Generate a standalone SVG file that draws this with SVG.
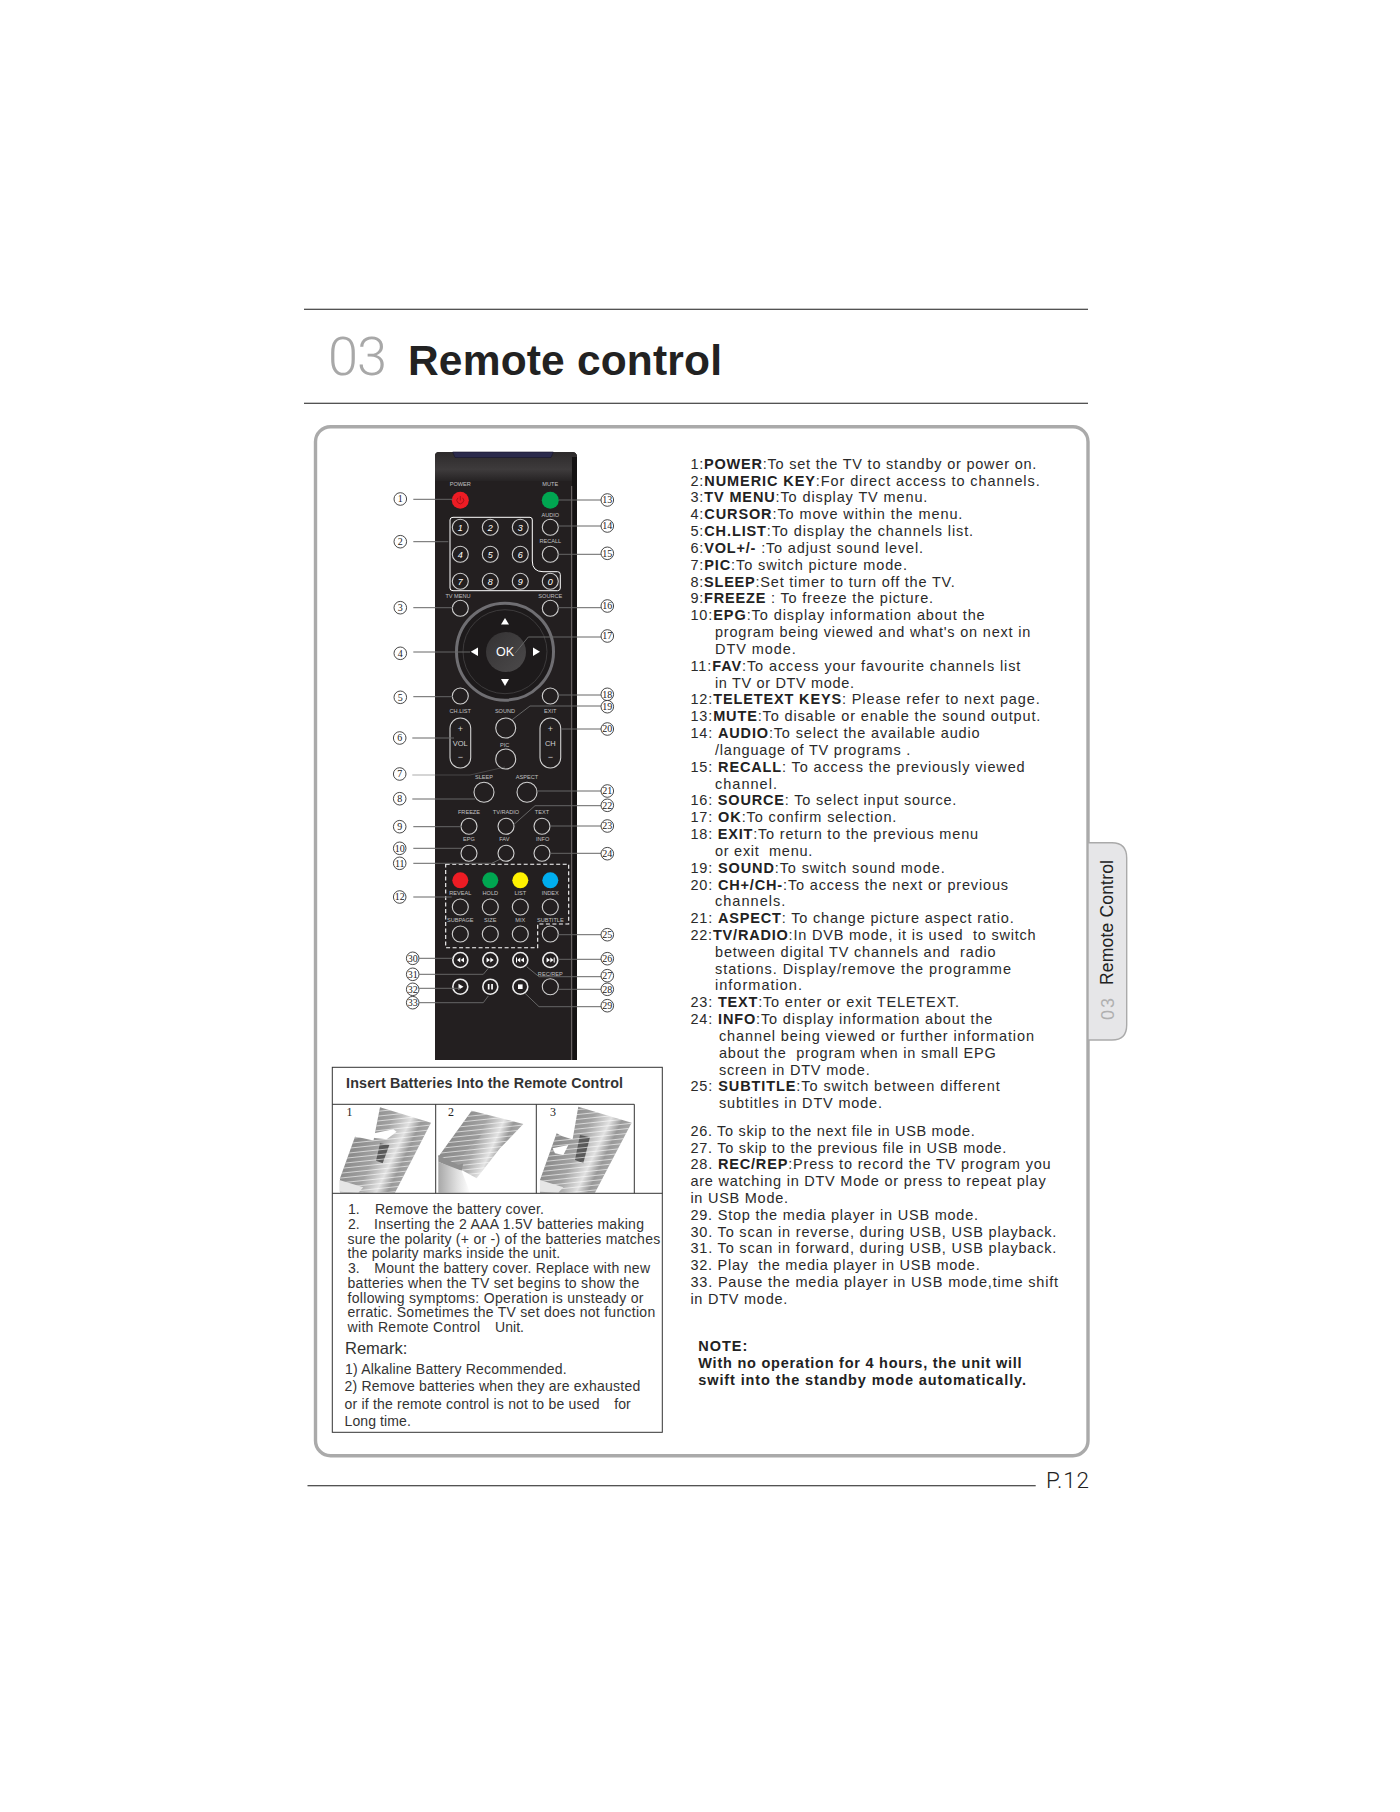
<svg xmlns="http://www.w3.org/2000/svg" width="1400" height="1812" viewBox="0 0 1400 1812">
<style>
text{font-family:"Liberation Sans",Arial,sans-serif;white-space:pre}
.d{font-size:14.5px;fill:#2a2a2a}
.d tspan{font-weight:bold;fill:#222}
.n{font-size:14.5px;fill:#222;font-weight:bold}
.b{font-size:14px;fill:#333}
.r{font-size:5.6px;fill:#c0c0c0;text-anchor:middle}
.p{font-size:9px;fill:#d0d0d0;text-anchor:middle}
.v{font-size:7.5px;fill:#d0d0d0;text-anchor:middle}
.k{font-size:9px;fill:#fff;font-style:italic;text-anchor:middle}
.c{fill:#fff;stroke:#333;stroke-width:.9}
.ct{font-family:"Liberation Serif",serif;font-size:10px;fill:#222;text-anchor:middle}
.l{fill:none;stroke:#666;stroke-width:1}
.btn{fill:#231f20;stroke:#d0d0d0;stroke-width:1.1}
.med{fill:#231f20;stroke:#ececec;stroke-width:1.6}
.w{fill:#fff}
.rule{stroke:#1a1a1a;stroke-width:1.1}
.cell{fill:none;stroke:#333;stroke-width:1}
.pn{font-family:"Liberation Serif",serif;font-size:12px;fill:#222}
</style>
<defs>
<linearGradient id="rt" x1="0" y1="0" x2="0" y2="1"><stop offset="0" stop-color="#2d2a2b"/><stop offset=".6" stop-color="#3e3b3c"/><stop offset="1" stop-color="#262324"/></linearGradient>
<linearGradient id="okg" x1="0" y1="0" x2="1" y2="1"><stop offset="0" stop-color="#343233"/><stop offset="1" stop-color="#4c4a4b"/></linearGradient>
<linearGradient id="g1" gradientUnits="userSpaceOnUse" x1="90" y1="110" x2="280" y2="200"><stop offset="0" stop-color="#8c8c8c"/><stop offset=".3" stop-color="#a2a2a2"/><stop offset=".55" stop-color="#e2e2e2"/><stop offset=".7" stop-color="#989898"/><stop offset="1" stop-color="#b8b8b8"/></linearGradient>
<linearGradient id="g2" gradientUnits="userSpaceOnUse" x1="380" y1="90" x2="560" y2="170"><stop offset="0" stop-color="#8c8c8c"/><stop offset=".35" stop-color="#a4a4a4"/><stop offset=".6" stop-color="#e4e4e4"/><stop offset=".75" stop-color="#989898"/><stop offset="1" stop-color="#bcbcbc"/></linearGradient>
<linearGradient id="g3" gradientUnits="userSpaceOnUse" x1="690" y1="110" x2="880" y2="200"><stop offset="0" stop-color="#8c8c8c"/><stop offset=".3" stop-color="#a2a2a2"/><stop offset=".55" stop-color="#e2e2e2"/><stop offset=".7" stop-color="#989898"/><stop offset="1" stop-color="#b8b8b8"/></linearGradient>
<linearGradient id="g4" x1="0" y1="0" x2="1" y2="0"><stop offset="0" stop-color="#a8a8a8"/><stop offset=".6" stop-color="#e0e0e0"/><stop offset="1" stop-color="#fff"/></linearGradient>
<clipPath id="bodies">
<polygon points="150,22 303,68 195,278 100,278"/>
<polygon points="75,110 100,115 160,128 130,278 30,278 30,235"/>
<polygon points="425,32 580,72 510,145 440,235 395,210 325,170"/>
<polygon points="745,20 905,68 795,278 700,278"/>
<polygon points="680,100 695,108 750,125 730,278 630,278 630,240"/>
</clipPath>
</defs>
<rect width="1400" height="1812" fill="#fff"/>

<g id="header">
<line class="rule" x1="304" y1="309.3" x2="1088" y2="309.3"/>
<line class="rule" x1="304" y1="403.3" x2="1088" y2="403.3"/>
<text x="328" y="375.3" style="font-family:Roboto,'Liberation Sans',sans-serif;font-weight:300" font-size="54" fill="#a8a8a8" textLength="59">03</text>
<text x="408" y="375.3" font-size="42.5" font-weight="bold" fill="#222" textLength="314">Remote control</text>
</g>

<rect id="frame" x="315.5" y="426.7" width="772.5" height="1029" rx="15" fill="none" stroke="#aaa" stroke-width="3.4"/>

<g id="side-tab">
<path d="M1088 842.7H1112Q1126.7 842.7 1126.7 858V1025Q1126.7 1040 1112 1040H1088Z" fill="#e6e6e8" stroke="#aaa" stroke-width="1.4"/>
<text transform="translate(1112.7 985) rotate(-90)" font-size="17.5" fill="#222" textLength="125">Remote Control</text>
<text transform="translate(1114 1020) rotate(-90)" font-size="18" fill="#b0b0b0" textLength="22">03</text>
</g>

<g id="footer">
<line class="rule" x1="307.5" y1="1485.7" x2="1035.7" y2="1485.7"/>
<text x="1046" y="1488.3" style="font-family:Roboto,'Liberation Sans',sans-serif;font-weight:300" font-size="22.5" fill="#222" textLength="43">P.12</text>
</g>

<g id="remote-body">
<path d="M435 1060V456Q435 452 439 452H572Q577 452 577 457V1060Z" fill="#231f20"/>
<path d="M435 456Q435 452 439 452H572Q577 452 577 457V481H435Z" fill="url(#rt)"/>
<path d="M452.7 452H553.3L551 457.5H455Z" fill="#2b2a4c" stroke="#17162c" stroke-width=".6"/>
<rect x="572" y="457" width="5" height="603" fill="#141213"/>
<line x1="571.7" y1="486" x2="571.7" y2="1060" stroke="#77706f" stroke-width="1"/>
</g>

<g id="remote-labels">
<text class="r" x="460.3" y="486">POWER</text><text class="r" x="550.3" y="485.5">MUTE</text>
<text class="r" x="550.3" y="517">AUDIO</text><text class="r" x="550.3" y="543">RECALL</text>
<text class="r" x="458" y="598">TV MENU</text><text class="r" x="550.3" y="598">SOURCE</text>
<text class="r" x="460.3" y="713">CH.LIST</text><text class="r" x="505" y="713">SOUND</text><text class="r" x="550.3" y="713">EXIT</text>
<text class="r" x="504.7" y="746.5">PIC</text>
<text class="r" x="484" y="779">SLEEP</text><text class="r" x="527" y="779">ASPECT</text>
<text class="r" x="469" y="814">FREEZE</text><text class="r" x="506" y="814">TV/RADIO</text><text class="r" x="542" y="814">TEXT</text>
<text class="r" x="469" y="841">EPG</text><text class="r" x="504.3" y="841">FAV</text><text class="r" x="542.7" y="841">INFO</text>
<text class="r" x="460.3" y="894.7">REVEAL</text><text class="r" x="490.3" y="894.7">HOLD</text><text class="r" x="520.3" y="894.7">LIST</text><text class="r" x="550.3" y="894.7">INDEX</text>
<text class="r" x="460.3" y="922">SUBPAGE</text><text class="r" x="490.3" y="922">SIZE</text><text class="r" x="520.3" y="922">MIX</text><text class="r" x="550.3" y="922">SUBTITLE</text>
<text class="r" x="550.3" y="976">REC/REP</text>
</g>

<g id="remote-outlines" fill="none" stroke="#fff">
<path d="M453 517.3H530Q532.3 517.3 532.3 520V561Q532.3 571.7 543 571.7H557.5Q560.3 571.7 560.3 574.5V588Q560.3 590.7 557.5 590.7H453Q450 590.7 450 588V520Q450 517.3 453 517.3Z" stroke-width="1"/>
<path d="M445.7 864.3H568.7V924H537.7V947.7H445.7Z" stroke-width="1.1" stroke-dasharray="4 2.5"/>
</g>

<g id="btn-power"><circle cx="460.3" cy="500.3" r="8.5" fill="#ed1c24"/><path d="M458 497.8A3.4 3.4 0 1 0 462.6 497.8M460.3 496V500.5" fill="none" stroke="#9c1016" stroke-width=".9"/></g>
<g id="btn-mute"><circle cx="550.3" cy="500.3" r="8.5" fill="#00a651"/></g>
<g id="btn-1"><circle class="btn" cx="460.3" cy="527.3" r="8"/><text class="k" x="460.3" y="530.5">1</text></g>
<g id="btn-2"><circle class="btn" cx="490.3" cy="527.3" r="8"/><text class="k" x="490.3" y="530.5">2</text></g>
<g id="btn-3"><circle class="btn" cx="520.3" cy="527.3" r="8"/><text class="k" x="520.3" y="530.5">3</text></g>
<g id="btn-audio"><circle class="btn" cx="550.3" cy="527.3" r="8"/></g>
<g id="btn-4"><circle class="btn" cx="460.3" cy="554.3" r="8"/><text class="k" x="460.3" y="557.5">4</text></g>
<g id="btn-5"><circle class="btn" cx="490.3" cy="554.3" r="8"/><text class="k" x="490.3" y="557.5">5</text></g>
<g id="btn-6"><circle class="btn" cx="520.3" cy="554.3" r="8"/><text class="k" x="520.3" y="557.5">6</text></g>
<g id="btn-recall"><circle class="btn" cx="550.3" cy="554.3" r="8"/></g>
<g id="btn-7"><circle class="btn" cx="460.3" cy="581.3" r="8"/><text class="k" x="460.3" y="584.5">7</text></g>
<g id="btn-8"><circle class="btn" cx="490.3" cy="581.3" r="8"/><text class="k" x="490.3" y="584.5">8</text></g>
<g id="btn-9"><circle class="btn" cx="520.3" cy="581.3" r="8"/><text class="k" x="520.3" y="584.5">9</text></g>
<g id="btn-0"><circle class="btn" cx="550.3" cy="581.3" r="8"/><text class="k" x="550.3" y="584.5">0</text></g>
<g id="btn-tvmenu"><circle class="btn" cx="460.3" cy="608.3" r="8"/></g>
<g id="btn-source"><circle class="btn" cx="550.3" cy="608.3" r="8"/></g>
<g id="dpad">
<circle cx="505" cy="651.7" r="48.5" fill="#1d1a1b" stroke="#6f6e72" stroke-width="3"/>
<circle cx="505" cy="651.7" r="42" fill="none" stroke="#3d3b3c" stroke-width="1"/>
<circle cx="506" cy="652" r="20" fill="url(#okg)"/>
<text x="505" y="656" font-size="12.5" fill="#fff" text-anchor="middle">OK</text>
<polygon class="w" points="505,618 509,624.5 501,624.5"/>
<polygon class="w" points="505,686 509,679 501,679"/>
<polygon class="w" points="470.7,651.7 478,647.5 478,656"/>
<polygon class="w" points="540,651.7 533,647.5 533,656"/>
</g>
<g id="btn-chlist"><circle class="btn" cx="460.3" cy="696" r="8"/></g>
<g id="btn-exit"><circle class="btn" cx="550.3" cy="696" r="8"/></g>
<g id="btn-vol"><rect class="btn" x="450" y="718" width="20.7" height="50" rx="10.3"/><text class="p" x="460.3" y="732">+</text><text class="v" x="460.3" y="746">VOL</text><text class="p" x="460.3" y="760">−</text></g>
<g id="btn-ch"><rect class="btn" x="540" y="718" width="20.7" height="50" rx="10.3"/><text class="p" x="550.3" y="732">+</text><text class="v" x="550.3" y="746">CH</text><text class="p" x="550.3" y="760">−</text></g>
<g id="btn-sound"><circle class="btn" cx="505.7" cy="728" r="10"/></g>
<g id="btn-pic"><circle class="btn" cx="505.7" cy="759" r="10"/></g>
<g id="btn-sleep"><circle class="btn" cx="484" cy="792.3" r="10"/></g>
<g id="btn-aspect"><circle class="btn" cx="527" cy="792.3" r="10"/></g>
<g id="btn-freeze"><circle class="btn" cx="469" cy="826.3" r="8"/></g>
<g id="btn-tvradio"><circle class="btn" cx="506" cy="826.3" r="8"/></g>
<g id="btn-text"><circle class="btn" cx="542" cy="826.3" r="8"/></g>
<g id="btn-epg"><circle class="btn" cx="469" cy="853.3" r="8"/></g>
<g id="btn-fav"><circle class="btn" cx="506" cy="853.3" r="8"/></g>
<g id="btn-info"><circle class="btn" cx="542" cy="853.3" r="8"/></g>
<g id="btn-red"><circle cx="460.3" cy="880.3" r="8" fill="#ed1c24"/></g>
<g id="btn-green"><circle cx="490.3" cy="880.3" r="8" fill="#00a651"/></g>
<g id="btn-yellow"><circle cx="520.3" cy="880.3" r="8" fill="#fff200"/></g>
<g id="btn-blue"><circle cx="550.3" cy="880.3" r="8" fill="#00aeef"/></g>
<g id="btn-reveal"><circle class="btn" cx="460.3" cy="907" r="8"/></g>
<g id="btn-hold"><circle class="btn" cx="490.3" cy="907" r="8"/></g>
<g id="btn-list"><circle class="btn" cx="520.3" cy="907" r="8"/></g>
<g id="btn-index"><circle class="btn" cx="550.3" cy="907" r="8"/></g>
<g id="btn-subpage"><circle class="btn" cx="460.3" cy="934" r="8"/></g>
<g id="btn-size"><circle class="btn" cx="490.3" cy="934" r="8"/></g>
<g id="btn-mix"><circle class="btn" cx="520.3" cy="934" r="8"/></g>
<g id="btn-subtitle"><circle class="btn" cx="550.3" cy="934" r="8"/></g>
<g id="btn-rew"><circle class="med" cx="460.3" cy="960" r="7.5"/><path class="w" d="M460.3 957.5V962.5L457 960ZM464 957.5V962.5L460.7 960Z"/></g>
<g id="btn-fwd"><circle class="med" cx="490.3" cy="960" r="7.5"/><path class="w" d="M486.6 957.5V962.5L490 960ZM490.3 957.5V962.5L493.7 960Z"/></g>
<g id="btn-prev"><circle class="med" cx="520.3" cy="960" r="7.5"/><path class="w" d="M516 957.5H517V962.5H516ZM520.3 957.5V962.5L517.2 960ZM524 957.5V962.5L520.7 960Z"/></g>
<g id="btn-next"><circle class="med" cx="550.3" cy="960" r="7.5"/><path class="w" d="M546.6 957.5V962.5L550 960ZM550.3 957.5V962.5L553.5 960ZM553.7 957.5H554.7V962.5H553.7Z"/></g>
<g id="btn-play"><circle class="med" cx="460.3" cy="986.7" r="7.5"/><polygon class="w" points="458.5,983.7 463.5,986.7 458.5,989.7"/></g>
<g id="btn-pause"><circle class="med" cx="490.3" cy="986.7" r="7.5"/><path class="w" d="M487.8 983.9H489.5V989.5H487.8ZM491.2 983.9H492.9V989.5H491.2Z"/></g>
<g id="btn-stop"><circle class="med" cx="520.3" cy="986.7" r="7.5"/><rect class="w" x="518" y="984.4" width="4.6" height="4.6"/></g>
<g id="btn-recrep"><circle class="btn" cx="550.3" cy="986.7" r="8"/></g>

<g id="connectors">
<path class="l" d="M413.3 499.3H452.7"/>
<path class="l" d="M413.3 541.7H448.3"/>
<path class="l" d="M413.3 607.7H452.7"/>
<path class="l" d="M413.3 652H470"/>
<path class="l" d="M413.3 696.7H452.7"/>
<path class="l" d="M412.3 738H454"/>
<path class="l" d="M412.3 775H470L505 767" stroke-opacity=".55"/>
<path class="l" d="M412.3 799H475"/>
<path class="l" d="M413.3 826.7H461.7"/>
<path class="l" d="M413.3 848.3H461.7"/>
<path class="l" d="M413.3 863.3H491.7L500 859.3"/>
<path class="l" d="M413.3 897H451.7"/>
<path class="l" d="M419.3 958.3H452.7"/>
<path class="l" d="M419.3 974.3H483.3L488.3 968.3"/>
<path class="l" d="M419.3 988.3H460"/>
<path class="l" d="M419.3 1002.7H483.3L488.3 996"/>
<path class="l" d="M558.7 500H601"/>
<path class="l" d="M558.3 526H601"/>
<path class="l" d="M558.3 554.3H601"/>
<path class="l" d="M558.3 607.7H601"/>
<path class="l" d="M515 653.3L528.3 637H601"/>
<path class="l" d="M558.3 695H601"/>
<path class="l" d="M511.7 720L530 706H601"/>
<path class="l" d="M561.7 729H601"/>
<path class="l" d="M536.7 791H601"/>
<path class="l" d="M513.3 825L535 805.7H601"/>
<path class="l" d="M550 826H601"/>
<path class="l" d="M550 853.3H601"/>
<path class="l" d="M558.3 934.7H601"/>
<path class="l" d="M558.3 959.3H601"/>
<path class="l" d="M526.7 966.7L539 976.7H601"/>
<path class="l" d="M558.3 989.3H601"/>
<path class="l" d="M525 993.3L539 1006.7H601"/>
</g>

<g id="callout-1"><circle class="c" cx="400.3" cy="499" r="6.3"/><text class="ct" x="400.3" y="502.3">1</text></g>
<g id="callout-2"><circle class="c" cx="400.3" cy="541.7" r="6.3"/><text class="ct" x="400.3" y="545">2</text></g>
<g id="callout-3"><circle class="c" cx="400.3" cy="607.7" r="6.3"/><text class="ct" x="400.3" y="611">3</text></g>
<g id="callout-4"><circle class="c" cx="400.3" cy="653.3" r="6.3"/><text class="ct" x="400.3" y="656.6">4</text></g>
<g id="callout-5"><circle class="c" cx="400.3" cy="697.3" r="6.3"/><text class="ct" x="400.3" y="700.6">5</text></g>
<g id="callout-6"><circle class="c" cx="399.7" cy="738" r="6.3"/><text class="ct" x="399.7" y="741.3">6</text></g>
<g id="callout-7"><circle class="c" cx="399.7" cy="774" r="6.3"/><text class="ct" x="399.7" y="777.3">7</text></g>
<g id="callout-8"><circle class="c" cx="399.7" cy="798.7" r="6.3"/><text class="ct" x="399.7" y="802">8</text></g>
<g id="callout-9"><circle class="c" cx="399.7" cy="826.7" r="6.3"/><text class="ct" x="399.7" y="830">9</text></g>
<g id="callout-10"><circle class="c" cx="399.7" cy="848.3" r="6.3"/><text class="ct" x="399.7" y="851.6">10</text></g>
<g id="callout-11"><circle class="c" cx="399.7" cy="863.3" r="6.3"/><text class="ct" x="399.7" y="866.6">11</text></g>
<g id="callout-12"><circle class="c" cx="399.7" cy="897" r="6.3"/><text class="ct" x="399.7" y="900.3">12</text></g>
<g id="callout-30"><circle class="c" cx="412.7" cy="958.3" r="6.3"/><text class="ct" x="412.7" y="961.6">30</text></g>
<g id="callout-31"><circle class="c" cx="412.7" cy="974.3" r="6.3"/><text class="ct" x="412.7" y="977.6">31</text></g>
<g id="callout-32"><circle class="c" cx="412.7" cy="989.3" r="6.3"/><text class="ct" x="412.7" y="992.6">32</text></g>
<g id="callout-33"><circle class="c" cx="412.7" cy="1002.7" r="6.3"/><text class="ct" x="412.7" y="1006">33</text></g>
<g id="callout-13"><circle class="c" cx="607.3" cy="500" r="6.3"/><text class="ct" x="607.3" y="503.3">13</text></g>
<g id="callout-14"><circle class="c" cx="607.3" cy="526" r="6.3"/><text class="ct" x="607.3" y="529.3">14</text></g>
<g id="callout-15"><circle class="c" cx="607.3" cy="553.3" r="6.3"/><text class="ct" x="607.3" y="556.6">15</text></g>
<g id="callout-16"><circle class="c" cx="607.3" cy="606" r="6.3"/><text class="ct" x="607.3" y="609.3">16</text></g>
<g id="callout-17"><circle class="c" cx="607.3" cy="636" r="6.3"/><text class="ct" x="607.3" y="639.3">17</text></g>
<g id="callout-18"><circle class="c" cx="607.3" cy="694.3" r="6.3"/><text class="ct" x="607.3" y="697.6">18</text></g>
<g id="callout-19"><circle class="c" cx="607.3" cy="706.7" r="6.3"/><text class="ct" x="607.3" y="710">19</text></g>
<g id="callout-20"><circle class="c" cx="607.3" cy="729" r="6.3"/><text class="ct" x="607.3" y="732.3">20</text></g>
<g id="callout-21"><circle class="c" cx="607.3" cy="791" r="6.3"/><text class="ct" x="607.3" y="794.3">21</text></g>
<g id="callout-22"><circle class="c" cx="607.3" cy="805.3" r="6.3"/><text class="ct" x="607.3" y="808.6">22</text></g>
<g id="callout-23"><circle class="c" cx="607.3" cy="826" r="6.3"/><text class="ct" x="607.3" y="829.3">23</text></g>
<g id="callout-24"><circle class="c" cx="607.3" cy="853.7" r="6.3"/><text class="ct" x="607.3" y="857">24</text></g>
<g id="callout-25"><circle class="c" cx="607.3" cy="934.7" r="6.3"/><text class="ct" x="607.3" y="938">25</text></g>
<g id="callout-26"><circle class="c" cx="607.3" cy="958.7" r="6.3"/><text class="ct" x="607.3" y="962">26</text></g>
<g id="callout-27"><circle class="c" cx="607.3" cy="975.7" r="6.3"/><text class="ct" x="607.3" y="979">27</text></g>
<g id="callout-28"><circle class="c" cx="607.3" cy="989.3" r="6.3"/><text class="ct" x="607.3" y="992.6">28</text></g>
<g id="callout-29"><circle class="c" cx="607.3" cy="1005.7" r="6.3"/><text class="ct" x="607.3" y="1009">29</text></g>

<g id="battery-box">
<rect class="cell" x="332.3" y="1067.3" width="330" height="365"/>
<text x="346" y="1087.7" font-size="14.3" font-weight="bold" fill="#333" textLength="277">Insert Batteries Into the Remote Control</text>
<g transform="translate(330 1100) scale(.3333)">
<polygon points="150,22 303,68 195,278 100,278" fill="url(#g1)"/>
<polygon points="75,110 100,115 160,128 130,278 30,278 30,235" fill="url(#g1)"/>
<polygon points="425,32 580,72 510,145 440,235 395,210 325,170" fill="url(#g2)"/>
<polygon points="745,20 905,68 795,278 700,278" fill="url(#g3)"/>
<polygon points="680,100 695,108 750,125 730,278 630,278 630,240" fill="url(#g3)"/>
<polygon points="150,130 178,135 158,190 138,182" fill="#5a5a5a"/>
<polygon points="750,105 780,112 760,190 735,180" fill="#5a5a5a"/>
<polygon points="345,155 425,95 455,105 385,180" fill="#8a8a8a" fill-opacity=".3"/>
<path clip-path="url(#bodies)" fill="none" stroke="#fff" stroke-opacity=".75" stroke-width="2.4" d="M0 20L1000 -85M0 34.5L1000 -70.5M0 49L1000 -56M0 63.5L1000 -41.5M0 78L1000 -27M0 92.5L1000 -12.5M0 107L1000 2M0 121.5L1000 16.5M0 136L1000 31M0 150.5L1000 45.5M0 165L1000 60M0 179.5L1000 74.5M0 194L1000 89M0 208.5L1000 103.5M0 223L1000 118M0 237.5L1000 132.5M0 252L1000 147M0 266.5L1000 161.5M0 281L1000 176M0 295.5L1000 190.5M0 310L1000 205M0 324.5L1000 219.5M0 339L1000 234M0 353.5L1000 248.5M0 368L1000 263M0 382.5L1000 277.5"/>
<polygon points="108,105 190,88 200,95 170,118 115,112" fill="#fff"/>
<polygon points="28,240 100,262 85,278 28,275" fill="#e6e6e6"/>
<polygon points="325,165 335,170 385,195 400,190 395,212 375,208 325,185" fill="#8f8f8f"/>
<polygon points="325,185 395,212 420,278 325,278" fill="url(#g4)"/>
<polygon points="668,145 715,135 700,165 675,160" fill="#fff"/>
<polygon points="630,240 700,262 685,278 630,275" fill="#e6e6e6"/>
</g>
<path class="cell" d="M332.3 1104.3H634.3V1193.3M435.7 1104.3V1193.3M536.3 1104.3V1193.3M332.3 1193.3H662.3"/>
<text class="pn" x="346.5" y="1116">1</text>
<text class="pn" x="448" y="1116">2</text>
<text class="pn" x="550" y="1116">3</text>
<text class="b" x="348" y="1214.3">1.</text><text class="b" x="375" y="1214.3" textLength="169">Remove the battery cover.</text>
<text class="b" x="348" y="1229">2.</text><text class="b" x="374" y="1229" textLength="270">Inserting the 2 AAA 1.5V batteries making</text>
<text class="b" x="347.5" y="1243.7" textLength="312.7">sure the polarity (+ or -) of the batteries matches</text>
<text class="b" x="347.5" y="1258.4" textLength="212.7">the polarity marks inside the unit.</text>
<text class="b" x="348" y="1273.1">3.</text><text class="b" x="374.3" y="1273.1" textLength="275.7">Mount the battery cover. Replace with new</text>
<text class="b" x="347.5" y="1287.8" textLength="291.7">batteries when the TV set begins to show the</text>
<text class="b" x="347.5" y="1302.5" textLength="296">following symptoms: Operation is unsteady or</text>
<text class="b" x="347.5" y="1317.2" textLength="307.7">erratic. Sometimes the TV set does not function</text>
<text class="b" x="347.5" y="1331.9" textLength="132.7">with Remote Control</text><text class="b" x="495" y="1331.9" textLength="29">Unit.</text>
<text class="b" x="345" y="1354" style="font-size:16.5px" textLength="62.3">Remark:</text>
<text class="b" x="345" y="1374" textLength="221.7">1) Alkaline Battery Recommended.</text>
<text class="b" x="344.5" y="1391.3" textLength="295.7">2) Remove batteries when they are exhausted</text>
<text class="b" x="344.5" y="1408.7" textLength="255">or if the remote control is not to be used</text><text class="b" x="614.3" y="1408.7" textLength="16.3">for</text>
<text class="b" x="344.5" y="1426" textLength="66.3">Long time.</text>
</g>

<g id="descriptions" transform="translate(-.3 -.2)">
<text class="d" x="690.7" y="469" textLength="346">1:<tspan>POWER</tspan>:To set the TV to standby or power on.</text>
<text class="d" x="690.7" y="485.8" textLength="349.3">2:<tspan>NUMERIC KEY</tspan>:For direct access to channels.</text>
<text class="d" x="690.7" y="502.7" textLength="237">3:<tspan>TV MENU</tspan>:To display TV menu.</text>
<text class="d" x="690.7" y="519.5" textLength="272">4:<tspan>CURSOR</tspan>:To move within the menu.</text>
<text class="d" x="690.7" y="536.3" textLength="282.7">5:<tspan>CH.LIST</tspan>:To display the channels list.</text>
<text class="d" x="690.7" y="553.2" textLength="232.7">6:<tspan>VOL+/-</tspan> :To adjust sound level.</text>
<text class="d" x="690.7" y="570" textLength="216.7">7:<tspan>PIC</tspan>:To switch picture mode.</text>
<text class="d" x="690.7" y="586.8" textLength="264.3">8:<tspan>SLEEP</tspan>:Set timer to turn off the TV.</text>
<text class="d" x="690.7" y="603.6" textLength="242.7">9:<tspan>FREEZE</tspan> : To freeze the picture.</text>
<text class="d" x="690.7" y="620.5" textLength="294.3">10:<tspan>EPG</tspan>:To display information about the</text>
<text class="d" x="715.3" y="637.3" textLength="315.3">program being viewed and what's on next in</text>
<text class="d" x="715.3" y="654.1" textLength="80.7">DTV mode.</text>
<text class="d" x="690.7" y="671" textLength="330">11:<tspan>FAV</tspan>:To access your favourite channels list</text>
<text class="d" x="715.3" y="687.8" textLength="139">in TV or DTV mode.</text>
<text class="d" x="690.7" y="704.6" textLength="349.3">12:<tspan>TELETEXT KEYS</tspan>: Please refer to next page.</text>
<text class="d" x="690.7" y="721.5" textLength="350">13:<tspan>MUTE</tspan>:To disable or enable the sound output.</text>
<text class="d" x="690.7" y="738.3" textLength="289.3">14: <tspan>AUDIO</tspan>:To select the available audio</text>
<text class="d" x="715.3" y="755.1" textLength="195.3">/language of TV programs .</text>
<text class="d" x="690.7" y="772" textLength="334.3">15: <tspan>RECALL</tspan>: To access the previously viewed</text>
<text class="d" x="715.3" y="788.8" textLength="62">channel.</text>
<text class="d" x="690.7" y="805.6" textLength="266">16: <tspan>SOURCE</tspan>: To select input source.</text>
<text class="d" x="690.7" y="822.4" textLength="206">17: <tspan>OK</tspan>:To confirm selection.</text>
<text class="d" x="690.7" y="839.3" textLength="287.7">18: <tspan>EXIT</tspan>:To return to the previous menu</text>
<text class="d" x="715.3" y="856.1" textLength="97.3">or exit  menu.</text>
<text class="d" x="690.7" y="872.9" textLength="254.3">19: <tspan>SOUND</tspan>:To switch sound mode.</text>
<text class="d" x="690.7" y="889.8" textLength="317.7">20: <tspan>CH+/CH-</tspan>:To access the next or previous</text>
<text class="d" x="715.3" y="906.6" textLength="70.3">channels.</text>
<text class="d" x="690.7" y="923.4" textLength="323.3">21: <tspan>ASPECT</tspan>: To change picture aspect ratio.</text>
<text class="d" x="690.7" y="940.2" textLength="345.3">22:<tspan>TV/RADIO</tspan>:In DVB mode, it is used  to switch</text>
<text class="d" x="715.3" y="957.1" textLength="280.7">between digital TV channels and  radio</text>
<text class="d" x="715.3" y="973.9" textLength="296">stations. Display/remove the programme</text>
<text class="d" x="715.3" y="990.7" textLength="87">information.</text>
<text class="d" x="690.7" y="1007.6" textLength="268.7">23: <tspan>TEXT</tspan>:To enter or exit TELETEXT.</text>
<text class="d" x="690.7" y="1024.4" textLength="302">24: <tspan>INFO</tspan>:To display information about the</text>
<text class="d" x="719.3" y="1041.2" textLength="315">channel being viewed or further information</text>
<text class="d" x="719.3" y="1058.1" textLength="276.7">about the  program when in small EPG</text>
<text class="d" x="719.3" y="1074.9" textLength="150.7">screen in DTV mode.</text>
<text class="d" x="690.7" y="1091.7" textLength="309.3">25: <tspan>SUBTITLE</tspan>:To switch between different</text>
<text class="d" x="719.3" y="1108.5" textLength="163">subtitles in DTV mode.</text>
<text class="d" x="690.7" y="1136" textLength="284.3">26. To skip to the next file in USB mode.</text>
<text class="d" x="690.7" y="1152.8" textLength="316">27. To skip to the previous file in USB mode.</text>
<text class="d" x="690.7" y="1169.6" textLength="360.3">28. <tspan>REC/REP</tspan>:Press to record the TV program you</text>
<text class="d" x="690.7" y="1186.4" textLength="355.3">are watching in DTV Mode or press to repeat play</text>
<text class="d" x="690.7" y="1203.2" textLength="97.7">in USB Mode.</text>
<text class="d" x="690.7" y="1220" textLength="287.7">29. Stop the media player in USB mode.</text>
<text class="d" x="690.7" y="1236.8" textLength="366">30. To scan in reverse, during USB, USB playback.</text>
<text class="d" x="690.7" y="1253.6" textLength="366">31. To scan in forward, during USB, USB playback.</text>
<text class="d" x="690.7" y="1270.4" textLength="289.3">32. Play  the media player in USB mode.</text>
<text class="d" x="690.7" y="1287.2" textLength="367.7">33. Pause the media player in USB mode,time shift</text>
<text class="d" x="690.7" y="1304" textLength="97">in DTV mode.</text>
</g>
<g id="note">
<text class="n" x="698.3" y="1351" textLength="49">NOTE:</text>
<text class="n" x="698.3" y="1368.3" textLength="323.3">With no operation for 4 hours, the unit will</text>
<text class="n" x="698.3" y="1385" textLength="327.7">swift into the standby mode automatically.</text>
</g>
</svg>
